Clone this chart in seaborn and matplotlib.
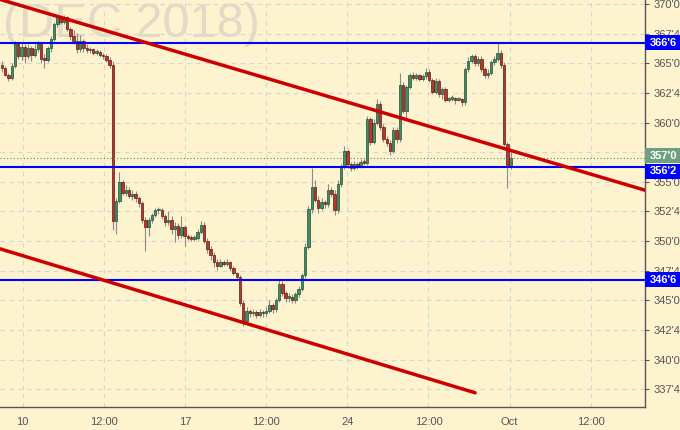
import numpy as np
import pandas as pd
import matplotlib

matplotlib.use('Agg')
import matplotlib.pyplot as plt
import matplotlib.transforms as mtransforms
from matplotlib.patches import Rectangle
from matplotlib.ticker import FuncFormatter
import seaborn as sns

# 2-hour bars, corn Dec 2018 (cents/bu)
opens = [364.9, 364.6, 364.0, 363.8, 364.8, 366.6, 365.6, 366.4, 365.6, 366.3,
         365.7, 366.2, 366.6, 365.4, 365.3, 366.3, 367.1, 368.3, 368.9, 368.5,
         368.9, 367.9, 367.3, 366.9, 366.2, 366.9, 366.3, 366.1, 366.2, 365.9,
         366.0, 365.7, 365.6, 365.3, 364.9, 351.7, 353.4, 355.0, 354.1, 354.3,
         353.8, 354.0, 353.6, 353.2, 351.8, 351.2, 351.8, 352.2, 352.6, 352.6,
         352.1, 351.6, 351.8, 351.0, 351.3, 350.5, 351.2, 350.4, 350.3, 350.2,
         350.3, 350.8, 351.4, 350.0, 349.3, 348.8, 348.2, 347.9, 348.2, 348.1,
         348.2, 347.7, 347.3, 347.0, 344.8, 343.3, 344.1, 343.9, 344.0, 343.8,
         344.0, 343.9, 344.1, 344.6, 344.3, 345.0, 346.4, 345.6, 345.2, 345.3,
         345.0, 345.5, 346.0, 347.1, 349.5, 352.7, 354.6, 353.5, 352.8, 353.3,
         353.1, 354.3, 354.0, 352.6, 354.8, 356.3, 357.6, 356.5, 356.2, 356.5,
         356.3, 356.7, 356.6, 360.3, 358.4, 360.0, 361.6, 359.6, 358.6, 358.3,
         357.6, 359.4, 358.6, 363.2, 361.0, 363.0, 364.0, 363.8, 364.0, 363.7,
         363.9, 364.3, 363.6, 362.6, 363.5, 362.4, 362.8, 361.9, 362.0, 362.1,
         361.9, 362.0, 361.7, 364.5, 365.2, 365.6, 365.0, 365.4, 364.5, 364.0,
         364.2, 365.1, 365.4, 365.9, 364.9, 358.2, 356.3]
highs = [365.2, 364.8, 364.2, 365.0, 366.9, 366.8, 366.7, 366.6, 366.6, 366.5,
         366.6, 366.9, 366.8, 365.8, 366.5, 367.3, 368.5, 369.1, 369.0, 369.1,
         369.0, 368.1, 367.8, 367.6, 367.4, 367.1, 366.6, 366.4, 366.3, 366.2,
         366.1, 365.9, 365.8, 365.5, 365.2, 353.6, 355.8, 355.2, 354.7, 354.6,
         354.3, 354.2, 353.8, 353.4, 352.0, 352.0, 352.4, 352.8, 352.9, 352.8,
         352.3, 352.5, 352.1, 351.6, 351.5, 352.1, 351.4, 350.6, 350.5, 350.5,
         351.0, 351.7, 351.6, 350.3, 349.6, 349.1, 348.5, 348.5, 348.4, 348.5,
         348.3, 347.9, 347.4, 347.1, 345.0, 344.4, 344.3, 344.3, 344.2, 344.3,
         344.2, 344.4, 345.0, 344.8, 345.2, 346.8, 346.6, 345.8, 345.6, 345.5,
         345.7, 346.2, 347.3, 349.8, 353.0, 356.2, 355.2, 353.8, 353.6, 353.5,
         354.8, 354.6, 354.3, 355.2, 356.5, 358.0, 357.8, 356.7, 356.8, 356.7,
         356.9, 356.9, 360.6, 360.5, 360.3, 362.0, 361.8, 359.9, 358.9, 358.5,
         359.6, 359.6, 364.2, 363.4, 363.2, 364.2, 364.3, 364.2, 364.1, 364.1,
         364.6, 364.5, 363.8, 363.8, 363.7, 363.0, 363.0, 362.2, 362.3, 362.2,
         362.2, 362.1, 364.7, 365.5, 365.8, 365.8, 365.6, 365.6, 364.7, 364.5,
         365.3, 365.6, 366.8, 366.1, 365.1, 358.4, 357.5]
lows = [364.3, 363.9, 363.5, 363.6, 364.6, 365.4, 365.3, 365.0, 365.4, 365.2,
        365.5, 366.0, 365.0, 364.6, 365.1, 366.0, 366.9, 368.1, 368.3, 368.3,
        367.7, 367.0, 366.6, 365.9, 366.0, 366.0, 365.9, 365.9, 365.7, 365.7,
        365.5, 365.4, 365.1, 364.6, 350.9, 350.6, 353.2, 353.9, 353.8, 353.6,
        353.5, 353.3, 352.9, 351.5, 349.2, 350.4, 351.5, 352.0, 352.3, 351.9,
        351.3, 351.4, 350.6, 349.9, 350.2, 350.3, 349.6, 350.1, 350.0, 350.0,
        350.1, 350.6, 349.8, 349.0, 348.4, 347.8, 347.6, 347.8, 347.9, 347.9,
        347.5, 347.1, 346.7, 344.5, 342.8, 343.0, 343.6, 343.7, 343.5, 343.6,
        343.6, 343.7, 343.9, 343.9, 344.0, 344.9, 345.4, 344.9, 344.9, 344.8,
        344.8, 345.3, 345.8, 346.9, 349.3, 352.4, 353.3, 352.4, 352.6, 352.8,
        352.9, 353.7, 352.2, 352.4, 354.6, 356.1, 356.2, 355.9, 356.0, 356.1,
        356.2, 356.4, 356.4, 358.1, 358.2, 359.8, 359.4, 358.4, 358.0, 357.3,
        357.4, 358.3, 358.4, 360.8, 360.2, 362.8, 363.6, 363.6, 363.5, 363.5,
        363.7, 363.4, 362.4, 362.4, 362.2, 362.0, 361.7, 361.7, 361.8, 361.6,
        361.8, 361.4, 361.5, 364.3, 365.0, 364.8, 364.8, 364.3, 363.8, 363.8,
        364.0, 364.9, 365.2, 364.6, 358.0, 354.5, 356.1]
closes = [364.6, 364.0, 363.8, 364.8, 366.6, 365.6, 366.4, 365.6, 366.3, 365.7,
          366.2, 366.6, 365.4, 365.3, 366.3, 367.1, 368.3, 368.9, 368.5, 368.9,
          367.9, 367.3, 366.9, 366.2, 366.9, 366.3, 366.1, 366.2, 365.9, 366.0,
          365.7, 365.6, 365.3, 364.9, 351.7, 353.4, 355.0, 354.1, 354.3, 353.8,
          354.0, 353.6, 353.2, 351.8, 351.2, 351.8, 352.2, 352.6, 352.6, 352.1,
          351.6, 351.8, 351.0, 351.3, 350.5, 351.2, 350.4, 350.3, 350.2, 350.3,
          350.8, 351.4, 350.0, 349.3, 348.8, 348.2, 347.9, 348.2, 348.1, 348.2,
          347.7, 347.3, 347.0, 344.8, 343.3, 344.1, 343.9, 344.0, 343.8, 344.0,
          343.9, 344.1, 344.6, 344.3, 345.0, 346.4, 345.6, 345.2, 345.3, 345.0,
          345.5, 346.0, 347.1, 349.5, 352.7, 354.6, 353.5, 352.8, 353.3, 353.1,
          354.3, 354.0, 352.6, 354.8, 356.3, 357.6, 356.5, 356.2, 356.5, 356.3,
          356.7, 356.6, 360.3, 358.4, 360.0, 361.6, 359.6, 358.6, 358.3, 357.6,
          359.4, 358.6, 363.2, 361.0, 363.0, 364.0, 363.8, 364.0, 363.7, 363.9,
          364.3, 363.6, 362.6, 363.5, 362.4, 362.8, 361.9, 362.0, 362.1, 361.9,
          362.0, 361.7, 364.5, 365.2, 365.6, 365.0, 365.4, 364.5, 364.0, 364.2,
          365.1, 365.4, 365.9, 364.9, 358.2, 356.3, 357.0]

# x axis labels (bar positions)
tick_pos = [6.3, 31.2, 56.1, 81.0, 105.9, 130.8, 155.7, 180.6]
tick_labels = ['10', '12:00', '17', '12:00', '24', '12:00', 'Oct', '12:00']

# support / resistance levels and trend channel
levels = [366.75, 356.25, 346.75]
last_price = 357.0
upper_x = [-0.6, 197.2]
upper_y = [370.4, 354.3]
lower_x = [-0.6, 145.1]
lower_y = [349.35, 337.2]

# price boxes on the right axis: (value, y position, colour)
box_vals = [366.75, 357.0, 356.25, 346.75]
box_ypos = [366.75, 357.2, 355.9, 346.75]
box_cols = ['#0000ff', '#6e9f80', '#0000ff', '#0000ff']

bg = '#fef3cf'
sns.set_style('whitegrid')
plt.rcParams['font.family'] = ['Liberation Sans', 'DejaVu Sans']

df = pd.DataFrame({'o': opens, 'h': highs, 'l': lows, 'c': closes})
df['i'] = np.arange(len(df))
up = df['c'] >= df['o']

fig = plt.figure(figsize=(6.8, 4.3), dpi=100, facecolor=bg)
ax = fig.add_axes([0, 23 / 430, 645 / 680, 407 / 430])
ax.set_facecolor(bg)

# wicks
ax.vlines(df['i'], df['l'], df['h'], color='#8a8a8a', lw=0.8, zorder=2)
# bodies
body_lo = df[['o', 'c']].min(axis=1)
body_hi = df[['o', 'c']].max(axis=1)
height = np.maximum(body_hi - body_lo, 0.15)
ax.bar(df['i'][up], height[up], bottom=body_lo[up], width=0.75,
       color='#3f8f62', edgecolor='#244d36', linewidth=0.5, zorder=3)
ax.bar(df['i'][~up], height[~up], bottom=body_lo[~up], width=0.75,
       color='#b8362c', edgecolor='#5c1c16', linewidth=0.5, zorder=3)

# levels
for lv in levels:
    ax.axhline(lv, color='#0000ff', lw=1.5, zorder=4)
ax.axhline(last_price, color='#4f8f60', lw=0.8, ls=(0, (1, 2)), zorder=4)

# trend channel
trend = pd.DataFrame({'x': upper_x + lower_x, 'y': upper_y + lower_y,
                      'line': ['upper'] * 2 + ['lower'] * 2})
sns.lineplot(data=trend, x='x', y='y', units='line', estimator=None,
             color='#cc0000', lw=2.5, ax=ax, zorder=5)

# watermark
ax.text(0.004, 0.909, '(DEC 2018)', transform=ax.transAxes, fontsize=35,
        color='#e0dac6', va='baseline', ha='left', zorder=1)


def eighths(v, pos=None):
    whole = int(np.floor(v + 1e-9))
    frac = int(round((v - whole) * 8))
    return f"{whole}'{frac}"


ax.set_xlim(-0.6, 197.2)
ax.set_ylim(336.0, 370.35)
ax.set_yticks(np.arange(337.5, 370.1, 2.5))
ax.yaxis.set_major_formatter(FuncFormatter(eighths))
ax.yaxis.tick_right()
ax.set_xticks(tick_pos)
ax.set_xticklabels(tick_labels)
ax.set_xlabel('')
ax.set_ylabel('')
ax.tick_params(axis='both', length=3, width=0.8, color='#555555',
               labelcolor='#555555', labelsize=8)
ax.tick_params(axis='y', pad=3)
ax.tick_params(axis='x', pad=4)

ax.grid(True, color='#d4d4d4', lw=0.8, ls=(0, (4, 4)))
ax.set_axisbelow(True)
for side in ['top', 'left']:
    ax.spines[side].set_visible(False)
for side in ['right', 'bottom']:
    ax.spines[side].set_visible(True)
    ax.spines[side].set_color('#555555')
    ax.spines[side].set_linewidth(1.0)

trans = mtransforms.blended_transform_factory(ax.transAxes, ax.transData)
box_h = 1.24
for v, yp, col in zip(box_vals, box_ypos, box_cols):
    ax.add_patch(Rectangle((1.0, yp - box_h / 2), 36 / 645, box_h,
                           transform=trans, facecolor=col, edgecolor='none',
                           clip_on=False, zorder=10))
    ax.text(1.0 + 5 / 645, yp, eighths(v), transform=trans, color='white',
            fontsize=8, fontweight='bold', va='center', ha='left',
            zorder=11, clip_on=False)

plt.savefig('out.png', dpi=100, facecolor=bg)
plt.close()
